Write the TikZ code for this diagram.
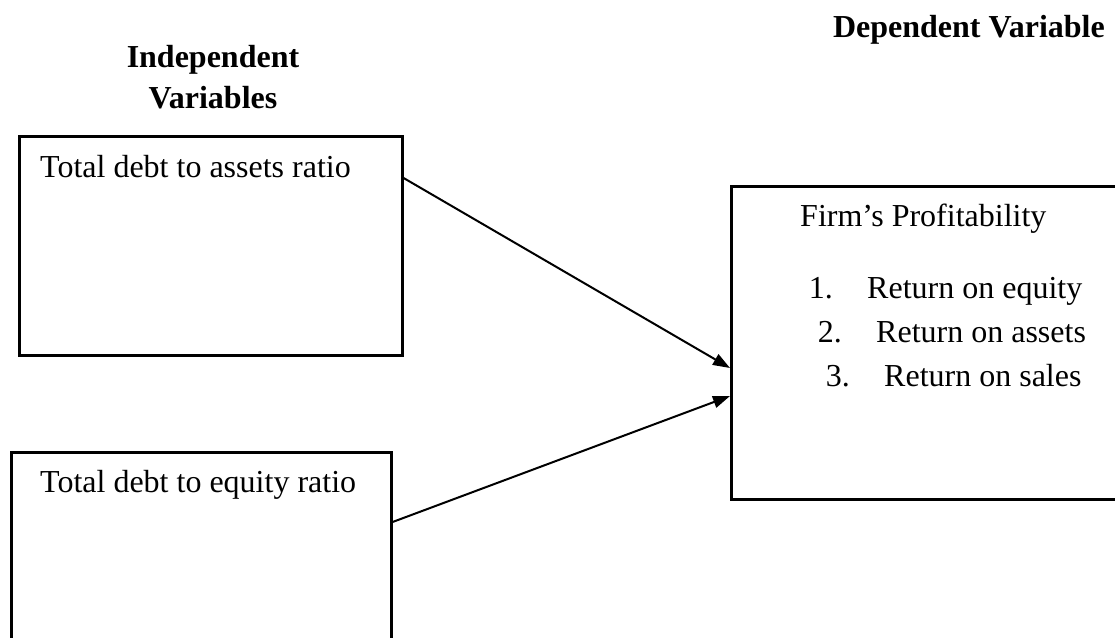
\documentclass[tikz,border=0pt]{standalone}
\usepackage{fontspec}
\setmainfont{Liberation Serif}
\usetikzlibrary{arrows.meta}
\begin{document}
\begin{tikzpicture}[x=1pt,y=-1pt,
  box/.style={draw,line width=2.6pt,rectangle,inner sep=0pt,anchor=north west},
  txt/.style={inner sep=0pt,anchor=base west,font=\fontsize{32}{38}\selectfont},
  num/.style={inner sep=0pt,anchor=base east,font=\fontsize{32}{38}\selectfont},
  head/.style={inner sep=0pt,anchor=base,font=\fontsize{32}{38}\selectfont\bfseries},
  conn/.style={line width=2pt,-{Triangle[length=17pt,width=12pt]}}]
\useasboundingbox (0,0) rectangle (1115,637);
\clip (0,0) rectangle (1115,637);
\fill[white] (0,0) rectangle (1115,637);
% boxes
\node[box,minimum width=383pt,minimum height=219pt] (tb) at (18,135) {};
\node[box,minimum width=380pt,minimum height=260pt] (bb) at (10,451) {};
\node[box,minimum width=420pt,minimum height=313pt] (rb) at (730,185) {};
% headings
\node[head] (h1) at (213,67) {Independent};
\node[head] (h2) at (213,108) {Variables};
\node[inner sep=0pt,anchor=base east,font=\fontsize{32}{38}\selectfont\bfseries] (h3) at (1105,37) {Dependent Variable};
% box texts
\node[txt] (t1) at (40,177) {Total debt to assets ratio};
\node[txt] (t2) at (40,492) {Total debt to equity ratio};
\node[txt] (t3) at (800,226) {Firm’s Profitability};
\node[num] (n1) at (833,298) {1.};
\node[num] (n2) at (842,342) {2.};
\node[num] (n3) at (850,386) {3.};
\node[txt] (l1) at (867,298) {Return on equity};
\node[txt] (l2) at (876,342) {Return on assets};
\node[txt] (l3) at (884,386) {Return on sales};
% connectors
\draw[conn] ([yshift=-43pt]tb.north east) -- ([yshift=-183pt]rb.north west);
\draw[conn] ([yshift=-71pt]bb.north east) -- ([yshift=-211pt]rb.north west);
\end{tikzpicture}
\end{document}
